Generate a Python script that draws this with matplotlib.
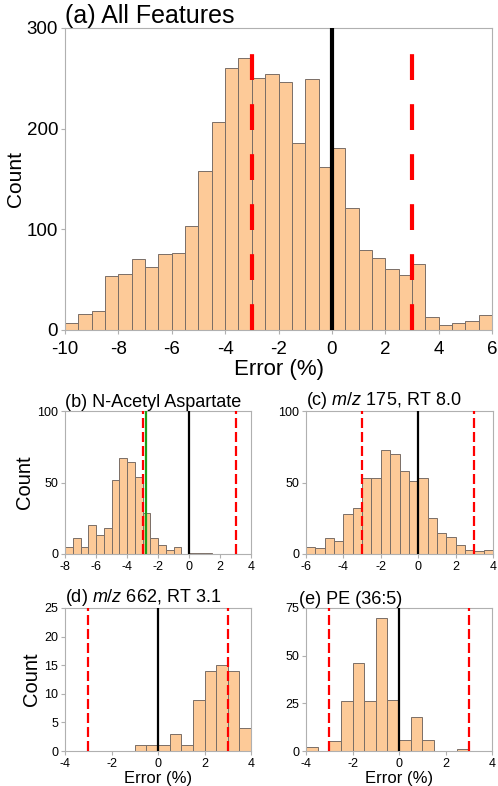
import numpy as np
import matplotlib.pyplot as plt

plt.rcParams['font.family'] = ['Liberation Sans', 'DejaVu Sans']
plt.rcParams['mathtext.fontset'] = 'custom'
plt.rcParams['mathtext.it'] = 'Liberation Sans:italic'
plt.rcParams['mathtext.rm'] = 'Liberation Sans'

# bin counts, bin width 0.5 %
a_start = -10
a_counts = [7, 16, 19, 54, 56, 71, 63, 75, 76, 103, 158, 207, 260, 270, 250, 254,
            246, 186, 249, 162, 181, 121, 79, 72, 61, 55, 66, 13, 5, 7, 9, 15]

b_start = -8
b_counts = [5, 11, 5, 20, 13, 18, 52, 67, 64, 54, 29, 11, 6, 3, 5, 0,
            1, 1, 1, 0, 0, 0, 0, 0]
b_green = -2.8

c_start = -6
c_counts = [5, 4, 11, 9, 28, 32, 53, 53, 73, 70, 58, 51, 53, 25, 15, 12,
            6, 3, 2, 3]

d_start = -4
d_counts = [0, 0, 0, 0, 0, 0, 1, 1, 1, 3, 1, 9, 14, 15, 14, 4]

e_start = -4
e_counts = [2, 0, 5, 26, 46, 26, 70, 27, 6, 18, 6, 0, 0, 1, 0, 0]

limits = [-3, 3]
bw = 0.5

bar_col = '#fdca98'
edge_col = '#7a6e66'
spine_col = '#b0b0b0'


def draw(ax, start, counts, xlim, ylim, xticks, yticks, title, fs_tick, fs_title,
         lw_red, lw_blk, dash, red_top, ylabel=True, xlabel=False, fs_lab=12,
         fs_xlab=12, title_x=0.0):
    left = start + bw * np.arange(len(counts))
    ax.bar(left, counts, width=bw, align='edge', color=bar_col,
           edgecolor=edge_col, linewidth=0.7, zorder=2)
    for x in limits:
        ax.plot([x, x], [0, red_top], color='#ff0000', lw=lw_red,
                dashes=dash, zorder=3)
    ax.axvline(0, color='black', lw=lw_blk, zorder=3)
    ax.set_xlim(xlim)
    ax.set_ylim(ylim)
    ax.set_xticks(xticks)
    ax.set_yticks(yticks)
    ax.set_xticklabels([str(t) for t in xticks])
    ax.tick_params(labelsize=fs_tick, color=spine_col, length=3, pad=2)
    for s in ax.spines.values():
        s.set_color(spine_col)
        s.set_linewidth(0.8)
    ax.set_title(title, fontsize=fs_title, loc='left', pad=1, x=title_x)
    if ylabel:
        ax.set_ylabel('Count', fontsize=fs_lab, labelpad=2)
    if xlabel:
        ax.set_xlabel('Error (%)', fontsize=fs_xlab, labelpad=1)


fig = plt.figure(figsize=(4.98, 7.86), dpi=100)
W, H = 498, 786


def add(l, t, r, b):
    return fig.add_axes([l / W, 1 - b / H, (r - l) / W, (b - t) / H])


ax_a = add(65, 28, 492, 330)
draw(ax_a, a_start, a_counts, (-10, 6), (0, 300), list(range(-10, 7, 2)),
     [0, 100, 200, 300], '(a) All Features', 13.5, 18, 3, 3, (6.2, 5.8), 277,
     xlabel=True, fs_lab=15, fs_xlab=16)
ax_a.tick_params(axis='x', pad=5)
ax_a.xaxis.labelpad = 1
ax_a.yaxis.labelpad = 1

small_dash = (4.5, 1.8)

ax_b = add(65, 411, 251, 554)
draw(ax_b, b_start, b_counts, (-8, 4), (0, 100), list(range(-8, 5, 2)),
     [0, 50, 100], '(b) N-Acetyl Aspartate', 9, 13, 1.6, 1.6, small_dash, 100,
     fs_lab=14.5)
ax_b.axvline(b_green, color='#1aa01a', lw=1.6, zorder=4)

ax_c = add(306, 411, 493, 554)
draw(ax_c, c_start, c_counts, (-6, 4), (0, 100), list(range(-6, 5, 2)),
     [0, 50, 100], '(c) $m/z$ 175, RT 8.0', 9, 13, 1.6, 1.6, small_dash, 100,
     ylabel=False)

ax_d = add(65, 608, 251, 751)
draw(ax_d, d_start, d_counts, (-4, 4), (0, 25), list(range(-4, 5, 2)),
     [0, 5, 10, 15, 20, 25], '(d) $m/z$ 662, RT 3.1', 9, 13, 1.6, 1.6,
     small_dash, 25, xlabel=True, fs_lab=14.5, fs_xlab=12)

ax_e = add(306, 608, 492, 751)
draw(ax_e, e_start, e_counts, (-4, 4), (0, 75), list(range(-4, 5, 2)),
     [0, 25, 50, 75], '(e) PE (36:5)', 9, 13, 1.6, 1.6, small_dash, 75,
     ylabel=False, xlabel=True, fs_xlab=12, title_x=-0.035)

fig.savefig('out.png', dpi=100)
